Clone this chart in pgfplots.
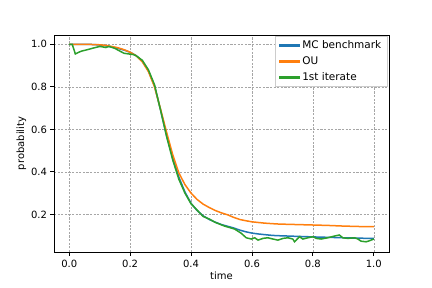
\documentclass[border=0pt]{standalone}
\usepackage{fontspec}
\setmainfont{DejaVu Sans}
\usepackage{pgfplots}
\pgfplotsset{compat=1.18}
\definecolor{mcblue}{HTML}{1F77B4}
\definecolor{ouorange}{HTML}{FF7F0E}
\definecolor{itgreen}{HTML}{2CA02C}
\begin{document}
\fontsize{10bp}{12bp}\selectfont
\begin{tikzpicture}
\begin{axis}[
  name=ax, at={(0,0)}, anchor=south west,
  scale only axis, width=335bp, height=217bp,
  xmin=-0.05, xmax=1.05, ymin=0.023, ymax=1.044,
  xtick={0,0.2,0.4,0.6,0.8,1.0},
  ytick={0.2,0.4,0.6,0.8,1.0},
  xticklabels={0.0,0.2,0.4,0.6,0.8,1.0},
  yticklabels={0.2,0.4,0.6,0.8,1.0},
  xtick pos=left, ytick pos=left,
  tick align=outside, major tick length=3.5bp,
  every tick/.style={black, line width=0.8bp},
  axis line style={black, line width=0.8bp},
  grid=major,
  major grid style={black!35, line width=0.5bp, dash pattern=on 2.2bp off 1.4bp},
  xticklabel style={yshift=-1bp},
  xlabel={time}, ylabel={probability},
  xlabel style={yshift=3bp},
  ylabel style={yshift=-2bp},
  legend cell align=left,
  legend style={at={(1,1)}, anchor=north east, xshift=-1.5bp, yshift=-1bp,
    draw=black!20, fill=white, inner xsep=4bp, inner ysep=2.5bp,
    row sep=2.5bp, font=\fontsize{10.5bp}{12bp}\selectfont},
  legend image code/.code={\fill[#1] (0bp,-0.75bp) rectangle (20bp,0.75bp);},
]
\addplot[color=mcblue, line width=1.5bp] coordinates {
(0,1.0)(0.02,1.0)(0.04,1.0)(0.06,1.0)(0.08,0.999)(0.10,0.997)(0.12,0.993)
(0.14,0.988)(0.16,0.981)(0.18,0.973)(0.20,0.963)(0.22,0.947)(0.24,0.92)
(0.26,0.876)(0.28,0.805)(0.30,0.69)(0.32,0.568)(0.34,0.465)(0.36,0.375)
(0.38,0.305)(0.40,0.252)(0.42,0.218)(0.44,0.193)(0.46,0.176)(0.48,0.163)
(0.50,0.152)(0.52,0.144)(0.54,0.136)(0.56,0.126)(0.58,0.118)(0.60,0.112)
(0.62,0.108)(0.64,0.105)(0.66,0.102)(0.68,0.100)(0.70,0.099)(0.72,0.098)
(0.74,0.097)(0.76,0.096)(0.78,0.095)(0.80,0.094)(0.85,0.092)(0.90,0.090)
(0.95,0.088)(1.00,0.087)
};
\addlegendentry{MC benchmark}
\addplot[color=ouorange, line width=1.5bp] coordinates {
(0,1.0)(0.02,1.0)(0.04,1.0)(0.06,1.0)(0.08,0.999)(0.10,0.998)(0.12,0.995)
(0.14,0.99)(0.16,0.984)(0.18,0.975)(0.20,0.963)(0.22,0.946)(0.24,0.918)
(0.26,0.872)(0.28,0.80)(0.30,0.695)(0.32,0.585)(0.34,0.48)(0.36,0.395)
(0.38,0.34)(0.40,0.30)(0.42,0.27)(0.44,0.248)(0.46,0.232)(0.48,0.218)
(0.50,0.207)(0.52,0.198)(0.54,0.186)(0.56,0.176)(0.58,0.170)(0.60,0.165)
(0.62,0.162)(0.64,0.159)(0.66,0.157)(0.68,0.155)(0.70,0.154)(0.75,0.152)
(0.80,0.150)(0.85,0.148)(0.90,0.145)(0.95,0.143)(1.00,0.142)
};
\addlegendentry{OU}
\addplot[color=itgreen, line width=1.5bp] coordinates {
(0,1.0)(0.01,1.0)(0.02,0.955)(0.03,0.962)(0.04,0.968)(0.06,0.975)(0.08,0.983)
(0.10,0.99)(0.11,0.988)(0.12,0.985)(0.13,0.99)(0.14,0.986)(0.15,0.981)
(0.16,0.973)(0.18,0.958)(0.20,0.954)(0.21,0.952)(0.22,0.946)(0.24,0.925)
(0.26,0.88)(0.28,0.81)(0.30,0.69)(0.32,0.565)(0.34,0.455)(0.36,0.365)
(0.38,0.30)(0.40,0.25)(0.42,0.22)(0.44,0.19)(0.46,0.178)(0.48,0.162)
(0.51,0.145)(0.543,0.131)(0.565,0.111)(0.581,0.09)(0.598,0.084)(0.609,0.09)
(0.62,0.079)(0.636,0.087)(0.652,0.09)(0.669,0.084)(0.685,0.079)(0.702,0.087)
(0.718,0.09)(0.734,0.084)(0.74,0.071)(0.756,0.095)(0.767,0.084)(0.784,0.09)
(0.8,0.095)(0.811,0.087)(0.827,0.084)(0.849,0.09)(0.871,0.098)(0.887,0.103)
(0.898,0.09)(0.915,0.087)(0.937,0.09)(0.948,0.084)(0.958,0.074)(0.975,0.071)
(0.986,0.076)(1.0,0.084)
};
\addlegendentry{1st iterate}
\end{axis}
\path (-54bp,-36bp) rectangle (378bp,252bp);
\end{tikzpicture}
\end{document}
